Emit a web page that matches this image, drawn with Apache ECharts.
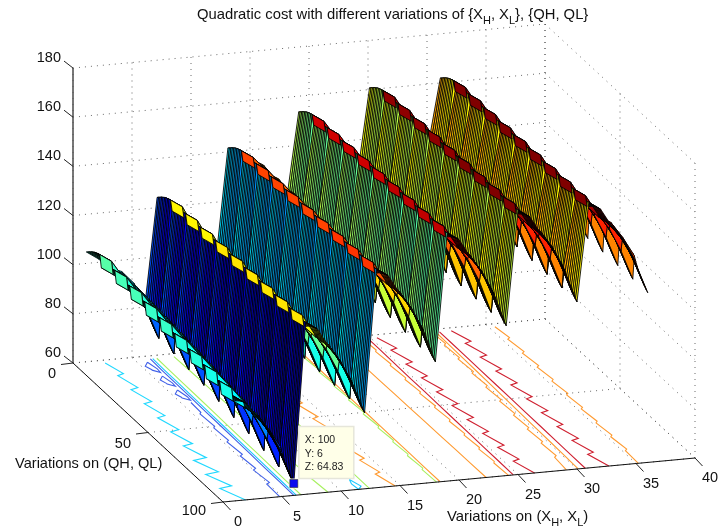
<!DOCTYPE html>
<html><head><meta charset="utf-8">
<style>html,body{margin:0;padding:0;background:#fff}#c{width:721px;height:529px}</style>
<script src="https://cdn.jsdelivr.net/npm/echarts@6/dist/echarts.min.js"></script>
</head><body><div id="c"></div>
<script>
// ---------- tick labels ----------
const xTicks=[0,5,10,15,20,25,30,35,40];
const yTicks=[0,50,100];
const zTicks=[60,80,100,120,140,160,180];
// ---------- surface: value at the first row of each 10-row block, one list per column ----------
const blockStart=[
[105.3,104.5,103.8,103,102.2,101.4,100.6,99.8,99,98.3],
[102.1,101.3,100.6,99.8,99,98.2,97.4,96.6,95.8,95.1],
[98,97.5,97,96.5,96,95.4,94.7,94,93,92],
[96,95.4,94.9,94.3,93.6,92.9,92,91,90,89],
[91,90.2,89.5,88.7,87.8,86.9,85.9,84.8,83.7,82.5],
[83,82.3,81.6,80.9,80,79.1,78.2,77,76,74.83],
[124.8,124.9,125,125.2,125.3,125.4,125.6,125.7,125.9,126],
[121.6,121.7,121.8,122,122.1,122.2,122.4,122.5,122.7,122.8],
[115.8,116.1,116.3,116.6,116.9,117.1,117.4,117.6,117.8,118],
[112.5,112.8,113,113.3,113.6,113.8,114.1,114.3,114.6,114.9],
[106,106.2,106.4,106.6,106.8,107,107.2,107.4,107.6,107.8],
[98,98.1,98.2,98.3,98.4,98.5,98.6,98.8,98.9,99],
[142.2,142.5,142.8,143.1,143.4,143.7,144,144.3,144.7,145],
[139,139.3,139.6,139.9,140.2,140.5,140.8,141.1,141.5,141.8],
[136.8,136.8,136.9,136.9,136.9,137,137,137,137,137],
[134,134,134,134,134,133.9,134,133.9,133.9,133.9],
[128,127.9,127.7,127.6,127.5,127.4,127.2,127.1,127,126.8],
[120,119.7,119.4,119,118.7,118.4,118,117.7,117.3,117],
[154.2,154.5,154.8,155.1,155.4,155.7,156,156.3,156.7,157],
[151,151.3,151.6,151.9,152.2,152.5,152.8,153.1,153.5,153.8],
[147.2,147.4,147.6,147.8,148,148.2,148.4,148.6,148.8,149],
[145,145.1,145.2,145.3,145.4,145.5,145.6,145.7,145.8,145.9],
[138,138.1,138.2,138.3,138.4,138.4,138.5,138.6,138.7,138.8],
[127,127.2,127.4,127.6,127.8,128,128.2,128.5,128.8,129],
[161.3,161.6,161.8,162.1,162.3,162.6,162.8,163.1,163.3,163.6],
[158.1,158.4,158.6,158.9,159.1,159.4,159.6,159.9,160.1,160.4],
[153.6,153.8,154,154.2,154.4,154.6,154.8,155.1,155.3,155.6],
[151.5,151.6,151.8,151.9,152,152.1,152.3,152.4,152.6,152.7],
[144.5,144.7,144.8,145,145.2,145.3,145.5,145.7,145.8,146],
[136.6,136.6,136.7,136.7,136.8,136.8,136.9,136.9,137,137],
[162.6,162.8,162.9,163.1,163.2,163.4,163.5,163.7,163.8,164],
[159.4,159.6,159.7,159.9,160,160.2,160.3,160.5,160.6,160.8],
[155,155.1,155.2,155.3,155.4,155.5,155.6,155.8,155.9,156],
[152.5,152.6,152.7,152.8,152.9,153,153.1,153.2,153.4,153.5],
[146,146.1,146.2,146.3,146.4,146.5,146.6,146.8,146.9,147],
[138,138.1,138.2,138.3,138.4,138.5,138.6,138.8,138.9,139]];
// change inside a block, by column position within its group of six
const insideBlock=[
[0,.6,1.2,1.8,2.3,2.8,3.2,3.5,3.8,4],
[0,.6,1.2,1.8,2.3,2.8,3.2,3.5,3.8,4],
[0,.2,.4,.6,.7,.8,.9,.95,1,1],
[0,-.3,-.7,-1,-1.4,-1.8,-2.1,-2.4,-2.7,-3],
[0,-.7,-1.4,-2.1,-2.8,-3.4,-4,-4.6,-5.3,-6],
[0,-1.8,-3.4,-4.8,-6,-7,-7.9,-8.7,-9.4,-10]];
const groupToothDepth=[1,.8,.8,.8,.9,1];
// ---------- contour lines on the floor: x read at y ----------
const yBlocks=[2,10,11,20,21,30,31,40,41,50,51,60,61,70,71,80,81,90,91,100];
const yCoarse=[2,10,20,30,40,50,60,70,80,90,100];
const contours=[
{c:'#20d8ff',y:yBlocks,x:[2.47,3,2.4,2.95,2.25,2.85,2.1,2.7,1.96,2.6,1.8,2.5,1.6,2.4,1.2,2.15,.95,2,.88,1.92]},
{c:'#4060e8',y:[4,6.5,9,9.5,11.5,9,4],x:[5.8,5.3,5.5,5.5,5.95,6,5.8]},
{c:'#4060e8',y:[14,16.5,19,19.5,21.5,19,14],x:[5.8,5.3,5.5,5.5,5.95,6,5.8]},
{c:'#4060e8',y:[24,26.5,29,29.5,31.5,29,24],x:[5.8,5.3,5.5,5.5,5.95,6,5.8]},
{c:'#4060e8',y:[33,40,41,50,51,60,61,70,71,80,81,90,91,100],x:[5.8,5.75,5.55,5.65,5.45,5.55,5.3,5.45,5.15,5.3,5,5.2,4.85,4.8]},
{c:'#4060e8',y:yCoarse,x:[6.3,6.25,6.22,6.2,6.17,6.15,6.12,6.1,6.06,6.03,6]},
{c:'#18c8ff',y:yCoarse,x:[6.5,6.46,6.44,6.4,6.38,6.35,6.32,6.3,6.27,6.23,6.2]},
{c:'#a8f060',y:yCoarse,x:[6.85,6.82,6.8,6.78,6.75,6.72,6.7,6.68,6.65,6.62,6.6]},
{c:'#a8f060',y:yCoarse,x:[8.3,8.35,8.4,8.4,8.5,8.5,8.6,8.65,8.7,8.75,8.9]},
{c:'#18c8ff',y:[93,96,100,98,93],x:[11.6,11.4,11.5,11.95,11.6]},
{c:'#a8f060',y:yCoarse,x:[12.1,12.1,12.15,12.2,12.2,12.25,12.3,12.3,12.35,12.4,12.4]},
{c:'#ff9a30',y:yBlocks,x:[13.7,14.3,13.75,14.3,13.8,14.35,13.8,14.35,13.85,14.4,13.85,14.4,13.9,14.45,13.95,14.5,14,14.55,14.05,14.6]},
{c:'#a8f060',y:yBlocks,x:[18.3,18.4,18.25,18.38,18.2,18.35,18.18,18.32,18.15,18.3,18.12,18.28,18.1,18.25,18.08,18.22,18.05,18.2,18.02,18.1]},
{c:'#ff9a30',y:yCoarse,x:[18.45,18.45,18.44,18.44,18.43,18.43,18.42,18.42,18.41,18.4,18.4]},
{c:'#ff9a30',y:yCoarse,x:[22.1,22.12,22.14,22.16,22.18,22.2,22.22,22.24,22.26,22.28,22.3]},
{c:'#ff9a30',y:yBlocks,x:[24.3,24.42,24.25,24.4,24.22,24.38,24.2,24.36,24.18,24.34,24.16,24.32,24.14,24.3,24.12,24.28,24.1,24.26,24.1,24.2]},
{c:'#cf2030',y:yCoarse,x:[24.75,24.74,24.72,24.7,24.7,24.68,24.66,24.65,24.63,24.62,24.6]},
{c:'#cf2030',y:yBlocks,x:[25.5,26.15,25.55,26.2,25.55,26.2,25.6,26.25,25.6,26.25,25.65,26.3,25.65,26.3,25.7,26.35,25.7,26.35,25.75,26.4]},
{c:'#ff9a30',y:yBlocks,x:[30.2,30.3,30.08,30.2,29.98,30.12,29.88,30.02,29.78,29.92,29.68,29.82,29.58,29.72,29.48,29.62,29.38,29.5,29.25,29.1]},
{c:'#ff9a30',y:yCoarse,x:[30.5,30.47,30.44,30.4,30.36,30.32,30.28,30.24,30.2,30.15,30.1]},
{c:'#cf2030',y:yCoarse,x:[30.8,30.8,30.79,30.78,30.77,30.76,30.75,30.74,30.72,30.71,30.7]},
{c:'#cf2030',y:yBlocks,x:[31.8,32.45,31.85,32.5,31.85,32.5,31.9,32.55,31.9,32.55,31.95,32.6,31.95,32.6,32,32.65,32,32.65,32.05,32.7]},
{c:'#ff9a30',y:yBlocks,x:[35.5,35.72,35.45,35.68,35.42,35.65,35.4,35.6,35.38,35.58,35.35,35.55,35.32,35.52,35.3,35.5,35.28,35.48,35.25,35.2]}];
// ---------- data tip ----------
const tipPoint={x:6,y:100,z:64.83};
const tipLines=['X: 100','Y: 6','Z: 64.83'];

// ---------- view ----------
const origin=[223,502], xStep=[11.8,-1.1], yStep=[1.5,1.39], zStep=2.458;
const zLow=60;
function proj(x,y,z){return [origin[0]+x*xStep[0]-(100-y)*yStep[0], origin[1]+x*xStep[1]-(100-y)*yStep[1]-(z-zLow)*zStep];}
const cLow=60,cHigh=168;
function jet(v){
  const t=Math.max(0,Math.min(.9999,(v-cLow)/(cHigh-cLow)));
  const q=Math.floor(t*64)/63;
  const f=(a)=>Math.max(0,Math.min(1,1.5-Math.abs(4*q-a)));
  return 'rgb('+Math.round(255*f(3))+','+Math.round(255*f(2))+','+Math.round(255*f(1))+')';
}
function zAt(x,y){
  const k=Math.floor((y-1)/10), j=(y-1)%10, col=x-1, off=col%6, g=Math.floor(col/6);
  const d=insideBlock[off][j]*(off>=3?groupToothDepth[g]:1);
  return blockStart[col][k]+d;
}
// Paint order: far strips first; the sloped block-joins on top of each ridge go after the wall in front of them.
const cells=[];
for(let x=35;x>=1;x--){
  const ridge=(x-1)%6<=1;
  for(let y=1;y<=99;y++) if(!ridge||y%10!==0) cells.push([x,y]);
  if(x%6===1&&x>1) for(let y=1;y<=99;y++) cells.push([x-1,y]);
  if(ridge&&x%6===2) for(let y=10;y<=90;y+=10) cells.push([x,y]);
  if(ridge&&x%6===1) for(let y=10;y<=90;y+=10) cells.push([x,y]);
  if(x%6===1&&x>1) x--;
}

const gridSegs=[];
function seg(a,b){gridSegs.push([a[0],a[1],a[2],b[0],b[1],b[2]]);}
zTicks.forEach(z=>{seg([0,0,z],[40,0,z]);seg([40,0,z],[40,100,z]);});
xTicks.forEach(x=>{seg([x,0,60],[x,0,180]);seg([x,0,60],[x,100,60]);});
yTicks.forEach(y=>{seg([40,y,60],[40,y,180]);seg([0,y,60],[40,y,60]);});

const labels=[];
zTicks.forEach(z=>labels.push({t:String(z),p:[0,0,z],dx:-12,dy:-10,a:'right'}));
yTicks.forEach(y=>labels.push({t:String(y),p:[0,y,60],dx:-17,dy:y===100?9:11,a:'right'}));
xTicks.forEach(x=>labels.push({t:String(x),p:[x,100,60],dx:15,dy:20,a:'center'}));
const ticks=[];
zTicks.forEach(z=>ticks.push({p:[0,0,z],dx:-9,dy:-7}));
yTicks.forEach(y=>ticks.push({p:[0,y,60],dx:-12,dy:1.5}));
xTicks.forEach(x=>ticks.push({p:[x,100,60],dx:7.5,dy:8}));

const chart=echarts.init(document.getElementById('c'),null,{renderer:'canvas'});
const pt=(api,p)=>api.coord(p);
const FONT='"Liberation Sans",Arial,sans-serif';
const subRich={s:{fontSize:11,fontFamily:FONT,fill:'#111',color:'#111',verticalAlign:'bottom',lineHeight:23}};
chart.setOption({
 animation:false,
 grid:{left:0,right:0,top:0,bottom:0},
 xAxis:{type:'value',min:0,max:721,show:false},
 yAxis:{type:'value',min:0,max:529,inverse:true,show:false},
 graphic:[
  {type:'text',left:197,top:3,z:100,style:{text:'Quadratic cost with different variations of \u007BX{s|H}, X{s|L}\u007D, \u007BQH, QL\u007D',rich:subRich,fontFamily:FONT,fontSize:14.8,lineHeight:16,fill:'#111'}},
  {type:'text',left:15,top:456,z:100,style:{text:'Variations on (QH, QL)',fontSize:14.6,fontFamily:FONT,fill:'#111'}},
  {type:'text',left:447,top:505,z:100,style:{text:'Variations on (X{s|H}, X{s|L})',rich:subRich,fontFamily:FONT,fontSize:14.8,lineHeight:16,fill:'#111'}}
 ],
 series:[
  {type:'custom',coordinateSystem:'cartesian2d',silent:true,clip:false,progressive:0,z:1,data:gridSegs,
   encode:{x:0,y:1},
   renderItem:(p,api)=>{const s=gridSegs[p.dataIndex];const a=proj(s[0],s[1],s[2]),b=proj(s[3],s[4],s[5]);const A=pt(api,a),B=pt(api,b);
     return {type:'line',shape:{x1:A[0],y1:A[1],x2:B[0],y2:B[1]},style:{stroke:'#444',lineWidth:.8,lineDash:[1,5]}};}},
  {type:'custom',coordinateSystem:'cartesian2d',silent:true,clip:false,progressive:0,z:2,data:contours.map((c,i)=>[i,0]),
   encode:{x:0,y:1},
   renderItem:(p,api)=>{const c=contours[p.dataIndex];const pts=c.y.map((y,i)=>pt(api,proj(c.x[i],y,zLow)));
     return {type:'polyline',shape:{points:pts},style:{stroke:c.c,lineWidth:1.1,fill:null}};}},
  {type:'custom',coordinateSystem:'cartesian2d',silent:true,clip:false,progressive:0,z:3,data:[0,1].map(i=>[i,0]),
   encode:{x:0,y:1},
   renderItem:(p,api)=>{const a=p.dataIndex===0?[[0,0,60],[0,100,60],[40,100,60]]:[[0,0,60],[0,0,180]];
     const pts=a.map(q=>pt(api,proj(q[0],q[1],q[2])));
     return {type:'polyline',shape:{points:pts},style:{stroke:p.dataIndex===0?'#111':'#555',lineWidth:p.dataIndex===0?1:1.6,fill:null}};}},
  {type:'custom',coordinateSystem:'cartesian2d',silent:true,clip:false,progressive:0,z:4,data:ticks.map((c,i)=>[i,0]),
   encode:{x:0,y:1},
   renderItem:(p,api)=>{const t=ticks[p.dataIndex];const A=pt(api,proj(t.p[0],t.p[1],t.p[2]));
     return {type:'line',shape:{x1:A[0],y1:A[1],x2:A[0]+t.dx,y2:A[1]+t.dy},style:{stroke:'#222',lineWidth:1}};}},
  {type:'custom',coordinateSystem:'cartesian2d',silent:true,clip:false,progressive:0,large:false,z:5,data:cells,
   encode:{x:0,y:1},
   renderItem:(p,api)=>{const c=cells[p.dataIndex],x=c[0],y=c[1];
     const q=[[x,y],[x+1,y],[x+1,y+1],[x,y+1]].map(v=>pt(api,proj(v[0],v[1],zAt(v[0],v[1]))));
     return {type:'polygon',shape:{points:q},style:{fill:jet(zAt(x,y)),stroke:'#000',lineWidth:.85}};}},
  {type:'custom',coordinateSystem:'cartesian2d',silent:true,clip:false,progressive:0,z:6,data:[[0,0]],
   encode:{x:0,y:1},
   renderItem:(p,api)=>{const A=pt(api,proj(tipPoint.x,tipPoint.y,tipPoint.z));
     const bx=A[0]+5,by=A[1]-57;
     return {type:'group',children:[
      {type:'rect',shape:{x:bx,y:by,width:55,height:52},style:{fill:'#ffffe8',stroke:'#e6e6da',lineWidth:1.5}},
      {type:'rect',shape:{x:A[0]-5,y:A[1]-5,width:10,height:10},style:{fill:'#ffffe0',stroke:null}},
      {type:'rect',shape:{x:A[0]-4,y:A[1]-4,width:8,height:8},style:{fill:'#0a0aee',stroke:'#222',lineWidth:.5}},
      {type:'text',x:bx+6,y:by+7,style:{text:tipLines.join('\n'),fontSize:10.5,lineHeight:13.5,fontFamily:FONT,fill:'#222'}}
     ]};}},
  {type:'custom',coordinateSystem:'cartesian2d',silent:true,clip:false,progressive:0,z:7,data:labels.map((c,i)=>[i,0]),
   encode:{x:0,y:1},
   renderItem:(p,api)=>{const l=labels[p.dataIndex];const A=pt(api,proj(l.p[0],l.p[1],l.p[2]));
     return {type:'text',x:A[0]+l.dx,y:A[1]+l.dy,style:{text:l.t,fontSize:14.5,fontFamily:FONT,fill:'#111',align:l.a,verticalAlign:'middle'}};}}
 ]
});
</script></body></html>
